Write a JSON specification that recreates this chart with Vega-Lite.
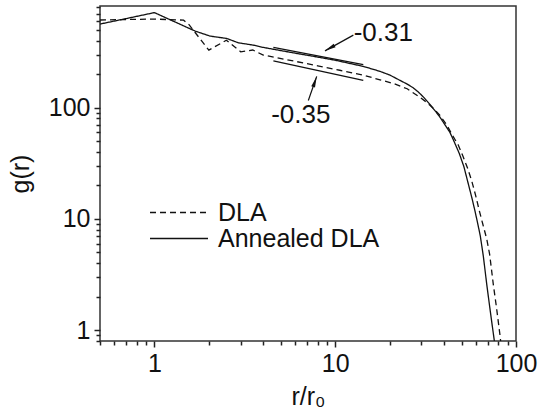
{
  "$schema": "https://vega.github.io/schema/vega-lite/v6.json",
  "width": 416,
  "height": 335,
  "autosize": "none",
  "padding": {"left": 100, "top": 6, "right": 22, "bottom": 73},
  "background": "white",
  "config": {
    "view": {"stroke": "#333", "strokeWidth": 1.5},
    "font": "Liberation Sans",
    "axis": {
      "domain": false, "grid": false, "ticks": true, "labelFont": "Liberation Sans", "titleFont": "Liberation Sans",
      "labelFontSize": 25, "titleFontSize": 25, "titleFontWeight": "normal",
      "labelColor": "#111", "titleColor": "#111", "tickColor": "#222", "tickWidth": 1.5, "tickOpacity": 1,
      "labelPadding": 4, "titlePadding": 8, "labelFlush": false, "labelOverlap": false
    },
    "legend": {
      "orient": "none", "legendX": 49, "legendY": 194, "padding": 0,
      "symbolType": "stroke", "symbolSize": 3364, "symbolStrokeWidth": 1.3, "symbolStrokeColor": "#111",
      "labelFont": "Liberation Sans", "labelFontSize": 25, "labelColor": "#111", "labelOffset": 9,
      "rowPadding": 0, "labelLimit": 0, "clipHeight": 25
    }
  },
  "datasets": {
    "curves": [
      {"series": "DLA", "r": 0.5, "g": 614},
      {"series": "DLA", "r": 1.0, "g": 626},
      {"series": "DLA", "r": 1.45, "g": 612},
      {"series": "DLA", "r": 1.55, "g": 560},
      {"series": "DLA", "r": 2.0, "g": 329},
      {"series": "DLA", "r": 2.5, "g": 404},
      {"series": "DLA", "r": 3.0, "g": 318},
      {"series": "DLA", "r": 3.5, "g": 330},
      {"series": "DLA", "r": 4.0, "g": 297},
      {"series": "DLA", "r": 6.0, "g": 261},
      {"series": "DLA", "r": 8.0, "g": 238},
      {"series": "DLA", "r": 10.6, "g": 217},
      {"series": "DLA", "r": 14.3, "g": 196},
      {"series": "DLA", "r": 17.7, "g": 178},
      {"series": "DLA", "r": 21, "g": 165},
      {"series": "DLA", "r": 25, "g": 148},
      {"series": "DLA", "r": 29.4, "g": 124},
      {"series": "DLA", "r": 32, "g": 112},
      {"series": "DLA", "r": 34.9, "g": 99},
      {"series": "DLA", "r": 38, "g": 85},
      {"series": "DLA", "r": 41.4, "g": 70},
      {"series": "DLA", "r": 44.1, "g": 58},
      {"series": "DLA", "r": 48, "g": 46},
      {"series": "DLA", "r": 51.1, "g": 36},
      {"series": "DLA", "r": 54, "g": 28.5},
      {"series": "DLA", "r": 56.9, "g": 22},
      {"series": "DLA", "r": 59.8, "g": 16.3},
      {"series": "DLA", "r": 62.7, "g": 11.8},
      {"series": "DLA", "r": 65.5, "g": 9.0},
      {"series": "DLA", "r": 68.9, "g": 6.6},
      {"series": "DLA", "r": 71.5, "g": 4.8},
      {"series": "DLA", "r": 74.9, "g": 2.58},
      {"series": "DLA", "r": 78, "g": 1.6},
      {"series": "DLA", "r": 81.5, "g": 0.91},
      {"series": "DLA", "r": 83, "g": 0.7},
      {"series": "Annealed DLA", "r": 0.5, "g": 564},
      {"series": "Annealed DLA", "r": 1.0, "g": 715},
      {"series": "Annealed DLA", "r": 1.68, "g": 488},
      {"series": "Annealed DLA", "r": 2.03, "g": 440},
      {"series": "Annealed DLA", "r": 2.51, "g": 419},
      {"series": "Annealed DLA", "r": 2.91, "g": 383},
      {"series": "Annealed DLA", "r": 3.52, "g": 365},
      {"series": "Annealed DLA", "r": 4.0, "g": 348},
      {"series": "Annealed DLA", "r": 6.0, "g": 309},
      {"series": "Annealed DLA", "r": 8.0, "g": 285},
      {"series": "Annealed DLA", "r": 10, "g": 267},
      {"series": "Annealed DLA", "r": 14.3, "g": 235},
      {"series": "Annealed DLA", "r": 17.7, "g": 212},
      {"series": "Annealed DLA", "r": 20.1, "g": 196},
      {"series": "Annealed DLA", "r": 22.8, "g": 176},
      {"series": "Annealed DLA", "r": 25, "g": 163},
      {"series": "Annealed DLA", "r": 27, "g": 151},
      {"series": "Annealed DLA", "r": 29, "g": 137},
      {"series": "Annealed DLA", "r": 31, "g": 123},
      {"series": "Annealed DLA", "r": 33.4, "g": 107},
      {"series": "Annealed DLA", "r": 36, "g": 92},
      {"series": "Annealed DLA", "r": 38, "g": 82},
      {"series": "Annealed DLA", "r": 40.5, "g": 70},
      {"series": "Annealed DLA", "r": 43.1, "g": 60},
      {"series": "Annealed DLA", "r": 45.5, "g": 49.5},
      {"series": "Annealed DLA", "r": 48.5, "g": 39},
      {"series": "Annealed DLA", "r": 51.5, "g": 29.5},
      {"series": "Annealed DLA", "r": 54.5, "g": 20.6},
      {"series": "Annealed DLA", "r": 57, "g": 15.5},
      {"series": "Annealed DLA", "r": 59.3, "g": 11.8},
      {"series": "Annealed DLA", "r": 61.5, "g": 9.0},
      {"series": "Annealed DLA", "r": 63.5, "g": 7.0},
      {"series": "Annealed DLA", "r": 66, "g": 4.6},
      {"series": "Annealed DLA", "r": 68.9, "g": 2.58},
      {"series": "Annealed DLA", "r": 72, "g": 1.5},
      {"series": "Annealed DLA", "r": 75.9, "g": 0.8},
      {"series": "Annealed DLA", "r": 77, "g": 0.7}
    ],
    "fits": [
      {"fit": "a", "r": 4.55, "g": 348},
      {"fit": "a", "r": 14.3, "g": 244},
      {"fit": "b", "r": 4.55, "g": 263},
      {"fit": "b", "r": 14.3, "g": 176}
    ],
    "arrows": [
      {"id": "a", "r": 12.6, "g": 449, "r2": 8.78, "g2": 324},
      {"id": "b", "r": 7.1, "g": 116, "r2": 7.9, "g2": 191}
    ],
    "labels": [
      {"label": "-0.31", "r": 18.45, "g": 466},
      {"label": "-0.35", "r": 6.45, "g": 86.1}
    ]
  },
  "layer": [
    {
      "data": {"name": "curves"},
      "mark": {"type": "line", "strokeWidth": 1.3, "color": "#111", "clip": true},
      "encoding": {
        "x": {"field": "r", "type": "quantitative",
          "scale": {"type": "log", "domain": [0.5, 100], "nice": false},
          "axis": {"orient": "bottom", "values": [1, 10, 100], "format": "d", "title": "r/r₀", "tickSize": 6}},
        "y": {"field": "g", "type": "quantitative",
          "scale": {"type": "log", "domain": [0.8, 820], "nice": false},
          "axis": {"orient": "left", "values": [1, 10, 100], "format": "d", "title": "g(r)", "tickSize": 6, "titlePadding": 15}},
        "strokeDash": {"field": "series", "type": "nominal",
          "scale": {"domain": ["DLA", "Annealed DLA"], "range": [[6, 4], [1, 0]]},
          "legend": {"title": null}}
      }
    },
    {
      "data": {"name": "fits"},
      "mark": {"type": "line", "strokeWidth": 1.3, "color": "#111"},
      "encoding": {
        "x": {"field": "r", "type": "quantitative",
          "scale": {"type": "log", "domain": [0.5, 100], "nice": false},
          "axis": {"orient": "bottom", "values": [0.5, 0.6, 0.7, 0.8, 0.9, 2, 3, 4, 5, 6, 7, 8, 9, 20, 30, 40, 50, 60, 70, 80, 90], "labels": false, "title": null, "tickSize": 4}},
        "y": {"field": "g", "type": "quantitative",
          "scale": {"type": "log", "domain": [0.8, 820], "nice": false},
          "axis": {"orient": "left", "values": [0.8, 0.9, 2, 3, 4, 5, 6, 7, 8, 9, 20, 30, 40, 50, 60, 70, 80, 90, 200, 300, 400, 500, 600, 700, 800], "labels": false, "title": null, "tickSize": 4}},
        "detail": {"field": "fit", "type": "nominal"}
      }
    },
    {
      "data": {"name": "arrows"},
      "mark": {"type": "rule", "strokeWidth": 1.2, "color": "#111"},
      "encoding": {
        "x": {"field": "r", "type": "quantitative", "scale": {"type": "log", "domain": [0.5, 100], "nice": false}, "axis": null},
        "y": {"field": "g", "type": "quantitative", "scale": {"type": "log", "domain": [0.8, 820], "nice": false}, "axis": null},
        "x2": {"field": "r2"},
        "y2": {"field": "g2"}
      }
    },
    {
      "data": {"name": "arrows"},
      "transform": [{"filter": "datum.id === 'a'"}],
      "mark": {"type": "point", "shape": "M0,0L0.4,2.2L-0.4,2.2Z", "filled": true, "color": "#111", "opacity": 1, "size": 100, "angle": 241},
      "encoding": {
        "x": {"field": "r2", "type": "quantitative", "scale": {"type": "log", "domain": [0.5, 100], "nice": false}, "axis": null},
        "y": {"field": "g2", "type": "quantitative", "scale": {"type": "log", "domain": [0.8, 820], "nice": false}, "axis": null}
      }
    },
    {
      "data": {"name": "arrows"},
      "transform": [{"filter": "datum.id === 'b'"}],
      "mark": {"type": "point", "shape": "M0,0L0.4,2.2L-0.4,2.2Z", "filled": true, "color": "#111", "opacity": 1, "size": 100, "angle": 19},
      "encoding": {
        "x": {"field": "r2", "type": "quantitative", "scale": {"type": "log", "domain": [0.5, 100], "nice": false}, "axis": null},
        "y": {"field": "g2", "type": "quantitative", "scale": {"type": "log", "domain": [0.8, 820], "nice": false}, "axis": null}
      }
    },
    {
      "data": {"name": "labels"},
      "mark": {"type": "text", "font": "Liberation Sans", "fontSize": 26, "color": "#111", "align": "center", "baseline": "middle"},
      "encoding": {
        "x": {"field": "r", "type": "quantitative", "scale": {"type": "log", "domain": [0.5, 100], "nice": false}, "axis": null},
        "y": {"field": "g", "type": "quantitative", "scale": {"type": "log", "domain": [0.8, 820], "nice": false}, "axis": null},
        "text": {"field": "label"}
      }
    }
  ],
  "resolve": {"axis": {"x": "independent", "y": "independent"}}
}
